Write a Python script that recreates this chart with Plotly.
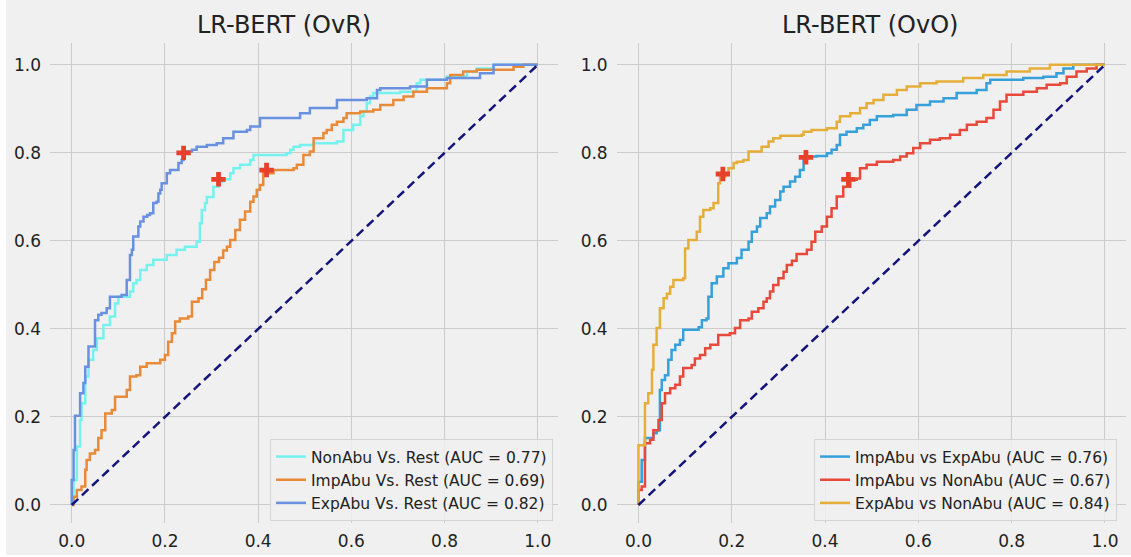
import plotly.graph_objects as go

# ---------------- data ----------------
# Left panel: One-vs-Rest
nonabu_fpr = [0.0, 0.004, 0.011, 0.018, 0.021, 0.029, 0.036, 0.046, 0.054, 0.068, 0.082, 0.093, 0.1, 0.125, 0.132,
              0.139, 0.147, 0.161, 0.175, 0.204, 0.225, 0.243, 0.268, 0.275, 0.279, 0.286, 0.29, 0.304, 0.315, 0.325,
              0.34, 0.347, 0.361, 0.383, 0.39, 0.461, 0.469, 0.476, 0.49, 0.519, 0.569, 0.583, 0.604, 0.619, 0.626,
              0.633, 0.64, 0.647, 0.705, 0.74, 0.748, 0.805, 0.848, 0.869, 0.905, 1.0]
nonabu_tpr = [0.0, 0.057, 0.133, 0.193, 0.231, 0.292, 0.33, 0.352, 0.379, 0.409, 0.428, 0.458, 0.473, 0.485, 0.504,
              0.511, 0.534, 0.545, 0.557, 0.568, 0.58, 0.587, 0.598, 0.64, 0.67, 0.686, 0.70, 0.723, 0.735, 0.74,
              0.754, 0.765, 0.773, 0.784, 0.795, 0.799, 0.807, 0.814, 0.818, 0.822, 0.826, 0.852, 0.864, 0.883, 0.894,
              0.913, 0.928, 0.936, 0.939, 0.958, 0.966, 0.973, 0.985, 0.992, 1.0, 1.0]

impabu_fpr = [0.0, 0.004, 0.011, 0.021, 0.029, 0.032, 0.039, 0.05, 0.057, 0.064, 0.072, 0.086, 0.093, 0.118, 0.125,
              0.139, 0.147, 0.161, 0.19, 0.2, 0.207, 0.215, 0.222, 0.232, 0.25, 0.258, 0.272, 0.28, 0.288, 0.297,
              0.306, 0.316, 0.325, 0.333, 0.34, 0.351, 0.361, 0.372, 0.383, 0.39, 0.397, 0.404, 0.411, 0.433, 0.476,
              0.483, 0.497, 0.511, 0.519, 0.54, 0.547, 0.558, 0.569, 0.583, 0.59, 0.619, 0.647, 0.662, 0.69, 0.712,
              0.733, 0.762, 0.805, 0.812, 0.84, 0.869, 0.948, 0.969, 1.0]
impabu_tpr = [0.0, 0.019, 0.034, 0.042, 0.08, 0.102, 0.117, 0.125, 0.152, 0.17, 0.208, 0.216, 0.246, 0.261, 0.292,
              0.295, 0.314, 0.322, 0.33, 0.341, 0.371, 0.39, 0.417, 0.424, 0.428, 0.462, 0.47, 0.49, 0.512, 0.534,
              0.552, 0.562, 0.578, 0.587, 0.602, 0.625, 0.648, 0.667, 0.689, 0.701, 0.716, 0.727, 0.754, 0.761, 0.765,
              0.773, 0.795, 0.803, 0.833, 0.845, 0.852, 0.864, 0.871, 0.879, 0.89, 0.894, 0.898, 0.909, 0.92, 0.928,
              0.939, 0.947, 0.958, 0.977, 0.985, 0.989, 0.996, 1.0, 1.0]

expabu_fpr = [0.0, 0.0, 0.004, 0.007, 0.018, 0.025, 0.029, 0.036, 0.05, 0.057, 0.064, 0.075, 0.082, 0.107, 0.118,
              0.125, 0.129, 0.132, 0.143, 0.147, 0.154, 0.162, 0.168, 0.175, 0.182, 0.186, 0.19, 0.193, 0.204, 0.211,
              0.229, 0.236, 0.24, 0.247, 0.258, 0.268, 0.29, 0.311, 0.325, 0.347, 0.376, 0.383, 0.404, 0.49, 0.511,
              0.569, 0.633, 0.655, 0.662, 0.726, 0.762, 0.805, 0.876, 0.905, 1.0]
expabu_tpr = [0.0, 0.057, 0.125, 0.203, 0.254, 0.277, 0.314, 0.36, 0.42, 0.432, 0.436, 0.447, 0.473, 0.477, 0.511,
              0.568, 0.58, 0.61, 0.633, 0.644, 0.655, 0.659, 0.663, 0.686, 0.689, 0.708, 0.716, 0.731, 0.754, 0.761,
              0.777, 0.784, 0.799, 0.803, 0.807, 0.814, 0.818, 0.822, 0.833, 0.848, 0.852, 0.86, 0.879, 0.89, 0.902,
              0.92, 0.924, 0.943, 0.947, 0.951, 0.966, 0.97, 0.981, 1.0, 1.0]

ovr_opt_fpr = [0.24, 0.315, 0.418]
ovr_opt_tpr = [0.80, 0.74, 0.761]

# Right panel: One-vs-One
ie_fpr = [0.0, 0.0, 0.007, 0.014, 0.032, 0.039, 0.046, 0.05, 0.057, 0.064, 0.071, 0.079, 0.089, 0.096, 0.129,
          0.136, 0.146, 0.15, 0.157, 0.168, 0.182, 0.193, 0.211, 0.221, 0.236, 0.243, 0.254, 0.261, 0.275, 0.282,
          0.293, 0.304, 0.311, 0.325, 0.336, 0.346, 0.354, 0.361, 0.382, 0.404, 0.414, 0.425, 0.432, 0.446, 0.468,
          0.482, 0.496, 0.511, 0.546, 0.575, 0.596, 0.625, 0.654, 0.682, 0.725, 0.746, 0.754, 0.825, 0.868, 0.896,
          0.911, 0.932, 1.0]
ie_tpr = [0.0, 0.053, 0.102, 0.152, 0.163, 0.17, 0.261, 0.284, 0.295, 0.33, 0.352, 0.364, 0.375, 0.398, 0.404,
          0.42, 0.424, 0.473, 0.504, 0.519, 0.538, 0.549, 0.561, 0.58, 0.598, 0.621, 0.633, 0.652, 0.663, 0.678,
          0.693, 0.712, 0.723, 0.735, 0.746, 0.761, 0.784, 0.792, 0.793, 0.799, 0.807, 0.818, 0.841, 0.848, 0.856,
          0.864, 0.875, 0.883, 0.886, 0.898, 0.909, 0.917, 0.924, 0.936, 0.943, 0.958, 0.966, 0.97, 0.973, 0.981,
          0.992, 1.0, 1.0]

in_fpr = [0.0, 0.0, 0.007, 0.014, 0.025, 0.032, 0.043, 0.05, 0.057, 0.068, 0.079, 0.089, 0.096, 0.114, 0.121,
          0.132, 0.143, 0.154, 0.171, 0.196, 0.207, 0.218, 0.236, 0.243, 0.257, 0.268, 0.275, 0.282, 0.289, 0.3,
          0.311, 0.318, 0.329, 0.339, 0.361, 0.371, 0.379, 0.393, 0.404, 0.414, 0.425, 0.439, 0.454, 0.468, 0.475,
          0.489, 0.511, 0.546, 0.561, 0.575, 0.589, 0.604, 0.625, 0.646, 0.668, 0.689, 0.704, 0.725, 0.746, 0.761,
          0.775, 0.789, 0.825, 0.854, 0.875, 0.904, 0.918, 0.939, 0.961, 0.982, 1.0]
in_tpr = [0.0, 0.034, 0.042, 0.14, 0.148, 0.17, 0.193, 0.231, 0.254, 0.265, 0.273, 0.292, 0.311, 0.318, 0.333,
          0.341, 0.356, 0.364, 0.386, 0.39, 0.402, 0.42, 0.424, 0.439, 0.447, 0.462, 0.47, 0.485, 0.5, 0.515,
          0.53, 0.545, 0.555, 0.57, 0.58, 0.598, 0.621, 0.633, 0.655, 0.674, 0.701, 0.723, 0.739, 0.742, 0.765,
          0.773, 0.78, 0.784, 0.792, 0.799, 0.811, 0.822, 0.83, 0.833, 0.841, 0.852, 0.864, 0.871, 0.879, 0.898,
          0.917, 0.932, 0.939, 0.947, 0.955, 0.958, 0.973, 0.985, 0.992, 1.0, 1.0]

en_fpr = [0.0, 0.0, 0.014, 0.014, 0.021, 0.029, 0.032, 0.039, 0.046, 0.054, 0.061, 0.068, 0.075, 0.096, 0.1,
          0.107, 0.125, 0.132, 0.139, 0.154, 0.161, 0.171, 0.175, 0.186, 0.193, 0.204, 0.211, 0.225, 0.236, 0.264,
          0.279, 0.289, 0.304, 0.35, 0.354, 0.371, 0.404, 0.425, 0.432, 0.454, 0.475, 0.489, 0.504, 0.525, 0.554,
          0.575, 0.604, 0.639, 0.696, 0.739, 0.789, 0.839, 0.882, 1.0]
en_tpr = [0.0, 0.136, 0.155, 0.231, 0.254, 0.307, 0.364, 0.402, 0.447, 0.47, 0.48, 0.496, 0.511, 0.515, 0.583,
          0.602, 0.621, 0.655, 0.67, 0.674, 0.686, 0.731, 0.746, 0.754, 0.765, 0.777, 0.78, 0.784, 0.803, 0.814,
          0.826, 0.833, 0.839, 0.841, 0.848, 0.852, 0.856, 0.871, 0.883, 0.89, 0.902, 0.913, 0.92, 0.932, 0.943,
          0.951, 0.958, 0.962, 0.97, 0.977, 0.985, 0.992, 1.0, 1.0]

ovo_opt_fpr = [0.181, 0.359, 0.45]
ovo_opt_tpr = [0.752, 0.79, 0.74]

chance = [0.0, 1.0]
ticks = [0.0, 0.2, 0.4, 0.6, 0.8, 1.0]
tick_text = ["0.0", "0.2", "0.4", "0.6", "0.8", "1.0"]

ovr_names = ["NonAbu Vs. Rest (AUC = 0.77)", "ImpAbu Vs. Rest (AUC = 0.69)", "ExpAbu Vs. Rest (AUC = 0.82)"]
ovo_names = ["ImpAbu vs ExpAbu (AUC = 0.76)", "ImpAbu vs NonAbu (AUC = 0.67)", "ExpAbu vs NonAbu (AUC = 0.84)"]
titles = ["LR-BERT (OvR)", "LR-BERT (OvO)"]

# ---------------- figure ----------------
FONT = "DejaVu Sans"
BG = "#f0f0f0"
GRID = "#cbcbcb"
LW = 2.5
MARK = "#e8402a"

fig = go.Figure()

left = [(nonabu_fpr, nonabu_tpr, "#74f2ee", ovr_names[0]),
        (impabu_fpr, impabu_tpr, "#e98a38", ovr_names[1]),
        (expabu_fpr, expabu_tpr, "#6a90e0", ovr_names[2])]
right = [(ie_fpr, ie_tpr, "#35a0da", ovo_names[0]),
         (in_fpr, in_tpr, "#e8493a", ovo_names[1]),
         (en_fpr, en_tpr, "#e5ae38", ovo_names[2])]

for xs, ys, col, name in left:
    fig.add_trace(go.Scatter(x=xs, y=ys, mode="lines", line=dict(color=col, width=LW, shape="hv"),
                             name=name, xaxis="x", yaxis="y", legend="legend"))
fig.add_trace(go.Scatter(x=chance, y=chance, mode="lines", line=dict(color="#14147a", width=LW, dash="9px,5px"),
                         showlegend=False, xaxis="x", yaxis="y"))
fig.add_trace(go.Scatter(x=ovr_opt_fpr, y=ovr_opt_tpr, mode="markers",
                         marker=dict(symbol="cross", size=12, color=MARK), showlegend=False, xaxis="x", yaxis="y"))

for xs, ys, col, name in right:
    fig.add_trace(go.Scatter(x=xs, y=ys, mode="lines", line=dict(color=col, width=LW, shape="hv"),
                             name=name, xaxis="x2", yaxis="y2", legend="legend2"))
fig.add_trace(go.Scatter(x=chance, y=chance, mode="lines", line=dict(color="#14147a", width=LW, dash="9px,5px"),
                         showlegend=False, xaxis="x2", yaxis="y2"))
fig.add_trace(go.Scatter(x=ovo_opt_fpr, y=ovo_opt_tpr, mode="markers",
                         marker=dict(symbol="cross", size=12, color=MARK), showlegend=False, xaxis="x2", yaxis="y2"))

W, H = 1131, 557
xdom1 = [50 / W, 558.3 / W]
xdom2 = [616.7 / W, 1125.5 / W]
ydom = [(H - 523.3) / H, (H - 43.3) / H]

axis_common = dict(range=[-0.0466, 1.044], tickvals=ticks, ticktext=tick_text, showgrid=True, gridcolor=GRID,
                   gridwidth=1.2, zeroline=False, showline=False, ticks="", tickfont=dict(family=FONT, size=17,
                   color="#222222"), fixedrange=True)
yaxis_common = dict(axis_common)
yaxis_common["range"] = [-0.0416, 1.049]

legend_common = dict(bgcolor="rgba(240,240,240,0.85)", bordercolor="#d4d4d4", borderwidth=1,
                     font=dict(family=FONT, size=15.5, color="#222222"), xanchor="right", yanchor="bottom",
                     itemwidth=30, tracegroupgap=0)

fig.update_layout(
    width=W, height=H,
    margin=dict(l=0, r=0, t=0, b=0),
    paper_bgcolor=BG, plot_bgcolor=BG,
    xaxis=dict(axis_common, domain=xdom1, anchor="y", ticklabelstandoff=6),
    yaxis=dict(yaxis_common, domain=ydom, anchor="x", ticklabelstandoff=8),
    xaxis2=dict(axis_common, domain=xdom2, anchor="y2", ticklabelstandoff=6),
    yaxis2=dict(yaxis_common, domain=ydom, anchor="x2", ticklabelstandoff=8),
    legend=dict(legend_common, x=553 / W, y=(H - 521) / H),
    legend2=dict(legend_common, x=1117 / W, y=(H - 521) / H),
    showlegend=True,
    annotations=[
        dict(text=titles[0], x=284 / W, y=(H - 25) / H, xref="paper", yref="paper", showarrow=False,
             xanchor="center", yanchor="middle", font=dict(family=FONT, size=24, color="#222222")),
        dict(text=titles[1], x=870 / W, y=(H - 25) / H, xref="paper", yref="paper", showarrow=False,
             xanchor="center", yanchor="middle", font=dict(family=FONT, size=24, color="#222222")),
    ],
    shapes=[
        dict(type="rect", xref="paper", yref="paper", x0=0, x1=6 / W, y0=0, y1=1, fillcolor="white",
             line=dict(width=0), layer="above"),
        dict(type="rect", xref="paper", yref="paper", x0=0, x1=1, y0=0, y1=2 / H, fillcolor="white",
             line=dict(width=0), layer="above"),
    ],
)

fig.write_html("out.html")
